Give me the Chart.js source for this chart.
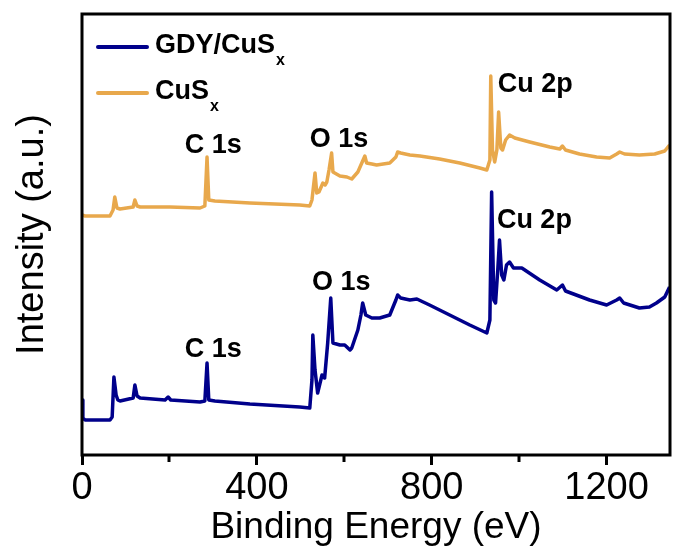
<!DOCTYPE html>
<html>
<head>
<meta charset="utf-8">
<script src="https://cdn.jsdelivr.net/npm/chart.js@4/dist/chart.umd.min.js"></script>
<style>
  html, body { margin: 0; padding: 0; background: #fff; }
  #wrap { width: 673px; height: 556px; }
</style>
</head>
<body>
<div id="wrap"><canvas id="c" width="673" height="556"></canvas></div>
<script>
// ---- data (binding energy in eV, intensity in arbitrary units) ----
const gdyEnergy = [0, 2, 7, 64, 69, 73, 78, 82, 87, 117, 121, 126, 133, 190, 197, 203, 270, 281, 286, 290, 304, 384, 498, 521, 526, 528, 533, 539, 549, 555, 562, 569, 574, 590, 601, 613, 617, 631, 638, 642, 649, 663, 681, 704, 718, 722, 729, 750, 766, 795, 841, 887, 926, 933, 937, 942, 946, 951, 955, 960, 965, 971, 978, 987, 1006, 1047, 1086, 1099, 1106, 1161, 1200, 1223, 1230, 1239, 1275, 1298, 1314, 1333, 1344];
const gdyIntensity = [55, 37, 35, 35, 38, 78, 60, 55, 54, 57, 70, 59, 57, 55, 58, 55, 53, 54, 92, 55, 54, 51, 48, 47, 75, 120, 85, 62, 80, 77, 112, 157, 112, 110, 110, 105, 107, 125, 140, 152, 140, 137, 137, 140, 155, 160, 157, 155, 156, 150, 140, 130, 122, 135, 263, 155, 152, 185, 215, 180, 175, 190, 193, 187, 187, 175, 165, 170, 164, 155, 150, 155, 157, 152, 147, 148, 152, 158, 168];

const cusEnergy = [0, 7, 64, 71, 75, 80, 87, 117, 121, 126, 133, 201, 270, 281, 286, 290, 304, 384, 498, 521, 526, 533, 537, 542, 551, 556, 560, 565, 571, 574, 578, 590, 606, 617, 631, 638, 647, 651, 663, 674, 704, 718, 722, 729, 750, 773, 818, 864, 910, 926, 933, 935, 939, 944, 949, 953, 958, 962, 969, 978, 990, 1024, 1070, 1093, 1099, 1106, 1138, 1177, 1207, 1223, 1230, 1241, 1275, 1310, 1333, 1344];
const cusIntensity = [240, 239, 239, 245, 258, 247, 246, 248, 255, 249, 248, 248, 247, 249, 298, 255, 254, 252, 250, 249, 255, 282, 262, 263, 272, 270, 273, 285, 302, 283, 282, 279, 278, 276, 283, 290, 299, 292, 291, 290, 292, 298, 303, 302, 300, 299, 296, 292, 287, 285, 295, 379, 305, 293, 305, 343, 307, 305, 315, 320, 317, 313, 308, 306, 309, 305, 301, 298, 297, 301, 303, 301, 300, 301, 304, 310];

const seriesNames = ['GDY/CuS', 'CuS'];
const seriesSub = ['x', 'x'];
const seriesColors = ['#00008B', '#E8A84C'];

const majorTicks = [0, 400, 800, 1200];
const minorTicks = [200, 600, 1000];

// peak labels: [text, energy, intensity]
const peakLabels = ['C 1s', 'O 1s', 'Cu 2p'];
const gdyLabelE = [235, 526, 949];
const gdyLabelI = [98, 165, 227];
const cusLabelE = [235, 521, 951];
const cusLabelI = [302, 308, 363];

const FONT = '"Liberation Sans", Arial, Helvetica, sans-serif';

function toPoints(xs, ys) { return xs.map((x, i) => ({ x: x, y: ys[i] })); }

const framePlugin = {
  id: 'frame',
  afterDraw(chart) {
    const ctx = chart.ctx, a = chart.chartArea;
    const xs = chart.scales.x, ys = chart.scales.y;
    ctx.save();
    // minor ticks
    ctx.strokeStyle = '#000';
    ctx.lineWidth = 3;
    minorTicks.forEach(v => {
      const px = Math.round(xs.getPixelForValue(v));
      ctx.beginPath();
      ctx.moveTo(px, a.bottom);
      ctx.lineTo(px, a.bottom + 7);
      ctx.stroke();
    });
    // frame
    ctx.lineWidth = 3;
    ctx.strokeRect(a.left, a.top, a.right - a.left, a.bottom - a.top);

    // legend
    const lx = a.left + 16;
    seriesNames.forEach((name, i) => {
      const ly = a.top + 33 + i * 46;
      ctx.strokeStyle = seriesColors[i];
      ctx.lineWidth = 4;
      ctx.lineCap = 'round';
      ctx.beginPath();
      ctx.moveTo(lx, ly);
      ctx.lineTo(lx + 49, ly);
      ctx.stroke();
      ctx.fillStyle = '#000';
      ctx.font = 'bold 27px ' + FONT;
      ctx.textAlign = 'left';
      ctx.textBaseline = 'alphabetic';
      ctx.fillText(name, lx + 57, ly + 6);
      const w = ctx.measureText(name).width;
      ctx.font = 'bold 16px ' + FONT;
      ctx.fillText(seriesSub[i], lx + 57 + w + 1, ly + 18);
    });

    // peak labels
    ctx.fillStyle = '#000';
    ctx.font = 'bold 27px ' + FONT;
    ctx.textAlign = 'left';
    ctx.textBaseline = 'alphabetic';
    peakLabels.forEach((t, i) => {
      ctx.fillText(t, xs.getPixelForValue(gdyLabelE[i]), ys.getPixelForValue(gdyLabelI[i]));
      ctx.fillText(t, xs.getPixelForValue(cusLabelE[i]), ys.getPixelForValue(cusLabelI[i]));
    });
    ctx.restore();
  }
};

new Chart(document.getElementById('c'), {
  type: 'line',
  data: {
    datasets: [
      { label: seriesNames[0] + seriesSub[0], data: toPoints(gdyEnergy, gdyIntensity), borderColor: seriesColors[0], borderWidth: 3.5, pointRadius: 0, tension: 0, fill: false, borderJoinStyle: 'round' },
      { label: seriesNames[1] + seriesSub[1], data: toPoints(cusEnergy, cusIntensity), borderColor: seriesColors[1], borderWidth: 3.5, pointRadius: 0, tension: 0, fill: false, borderJoinStyle: 'round' }
    ]
  },
  options: {
    responsive: false,
    animation: false,
    layout: { padding: { top: 14, right: 3, left: 0, bottom: 0 } },
    plugins: { legend: { display: false }, tooltip: { enabled: false } },
    scales: {
      x: {
        type: 'linear',
        min: 0,
        max: 1345,
        afterBuildTicks: s => { s.ticks = majorTicks.map(v => ({ value: v })); },
        afterFit: s => { s.height = 101; },
        border: { display: false },
        grid: { display: true, drawOnChartArea: false, drawTicks: true, tickLength: 10, tickWidth: 3, tickColor: '#000' },
        ticks: { color: '#000', font: { family: FONT, size: 38 }, padding: 1, maxRotation: 0, autoSkip: false, callback: v => String(v) },
        title: { display: true, text: 'Binding Energy (eV)', color: '#000', font: { family: FONT, size: 37 }, padding: { top: 0, bottom: 6 } }
      },
      y: {
        min: 0,
        max: 441,
        afterFit: s => { s.width = 82; },
        border: { display: false },
        grid: { display: false, drawTicks: false },
        ticks: { display: false },
        title: { display: true, text: 'Intensity (a.u.)', color: '#000', font: { family: FONT, size: 38 }, padding: { top: 10, bottom: 0 } }
      }
    }
  },
  plugins: [framePlugin]
});
</script>
</body>
</html>
